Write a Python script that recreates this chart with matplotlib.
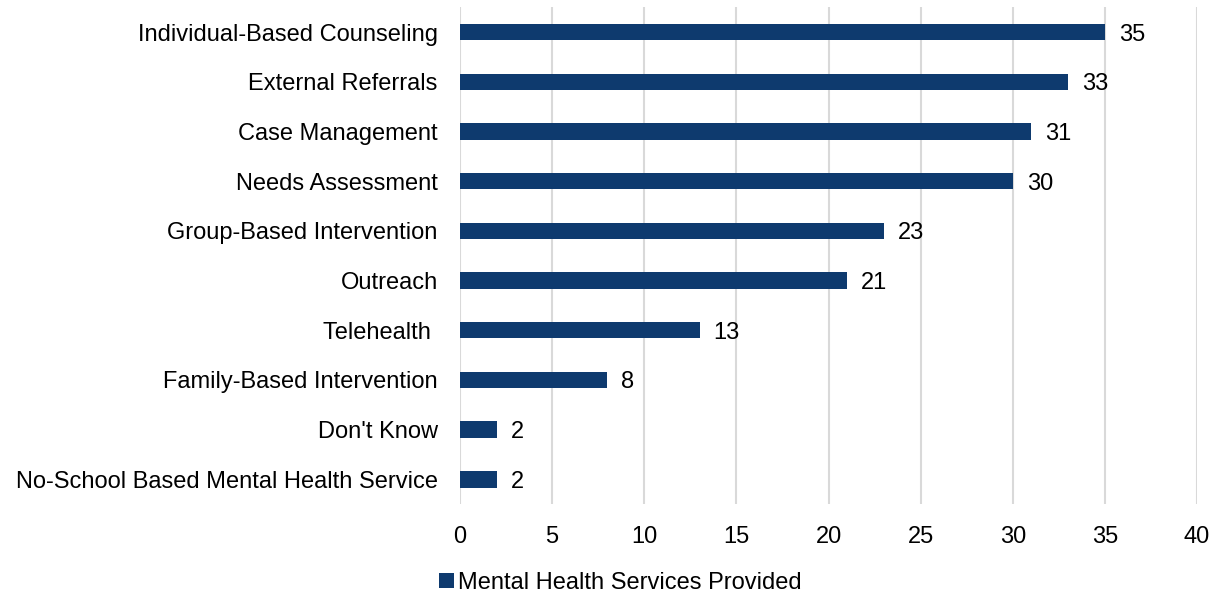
import matplotlib.pyplot as plt

plt.rcParams['font.family'] = ['Liberation Sans', 'DejaVu Sans']

categories = ["Individual-Based Counseling", "External Referrals", "Case Management",
              "Needs Assessment", "Group-Based Intervention", "Outreach", "Telehealth ",
              "Family-Based Intervention", "Don't Know", "No-School Based Mental Health Service"]
values = [35, 33, 31, 30, 23, 21, 13, 8, 2, 2]
series_name = "Mental Health Services Provided"
bar_color = "#0E3A6E"
fs = 17

fig = plt.figure(figsize=(12.17, 5.96), dpi=100)
ax = fig.add_axes([0.378, 0.154, 0.6056, 0.834])

ypos = list(range(len(categories)))
bars = ax.barh(ypos, values, height=0.33, color=bar_color, label=series_name, zorder=3)
ax.set_yticks(ypos)
ax.set_yticklabels(categories, fontsize=fs)
ax.set_ylim(len(categories) - 0.5, -0.5)
ax.set_xlim(0, 40)
ax.set_xticks(range(0, 41, 5))
ax.tick_params(axis='x', labelsize=fs, length=0, pad=16)
ax.tick_params(axis='y', length=0, pad=16)
ax.grid(axis='x', color='#D9D9D9', linewidth=1.5, zorder=0)
for s in ax.spines.values():
    s.set_visible(False)

for b, v in zip(bars, values):
    ax.annotate(str(v), (b.get_width(), b.get_y() + b.get_height() / 2),
                xytext=(10, 0), textcoords='offset points', va='center_baseline',
                ha='left', fontsize=fs)

fig.legend(handles=[bars], labels=[series_name], loc='center', bbox_to_anchor=(0.51, 0.022),
           frameon=False, fontsize=fs, handlelength=0.6, handleheight=0.6, handletextpad=0.2)

fig.savefig("out.png", dpi=100)
